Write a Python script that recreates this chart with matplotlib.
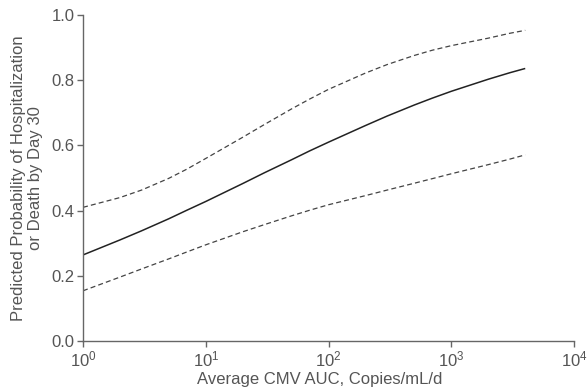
import matplotlib
matplotlib.use("Agg")
import matplotlib.pyplot as plt
from matplotlib.ticker import FixedLocator, NullLocator

plt.rcParams['font.family'] = ['Liberation Sans', 'DejaVu Sans']

auc = [1, 2, 3, 5, 7, 10, 20, 30, 50, 70, 100, 200, 300, 500, 700, 1000, 2000, 3000, 4000]
predicted = [0.264, 0.310, 0.338, 0.375, 0.401, 0.428, 0.483, 0.516, 0.556, 0.583, 0.610,
             0.661, 0.690, 0.724, 0.745, 0.766, 0.803, 0.823, 0.836]
upper_ci = [0.410, 0.440, 0.463, 0.499, 0.527, 0.560, 0.625, 0.664, 0.712, 0.742, 0.772,
            0.822, 0.848, 0.876, 0.892, 0.906, 0.929, 0.944, 0.953]
lower_ci = [0.154, 0.196, 0.221, 0.252, 0.273, 0.295, 0.335, 0.357, 0.384, 0.401, 0.418,
            0.446, 0.463, 0.484, 0.498, 0.513, 0.541, 0.558, 0.571]

xticks = [1, 10, 100, 1000, 10000]
xticklabels = [r'$\mathregular{10^{0}}$', r'$\mathregular{10^{1}}$', r'$\mathregular{10^{2}}$',
               r'$\mathregular{10^{3}}$', r'$\mathregular{10^{4}}$']
yticks = [0.0, 0.2, 0.4, 0.6, 0.8, 1.0]

fig = plt.figure(figsize=(5.87, 3.91), dpi=100)
ax = fig.add_axes([0.1414, 0.1279, 0.8366, 0.8337])

ax.plot(auc, predicted, color='#222222', lw=1.1, solid_capstyle='butt')
ax.plot(auc, upper_ci, color='#444444', lw=0.9, dashes=(4, 2.5))
ax.plot(auc, lower_ci, color='#444444', lw=0.9, dashes=(4, 2.5))

ax.set_xscale('log')
ax.set_xlim(1, 10000)
ax.set_ylim(0, 1.0)
ax.xaxis.set_major_locator(FixedLocator(xticks))
ax.xaxis.set_minor_locator(NullLocator())
ax.set_xticklabels(xticklabels)
ax.set_yticks(yticks)
ax.set_yticklabels([f'{v:.1f}' for v in yticks])

for s in ['top', 'right']:
    ax.spines[s].set_visible(False)
for s in ['left', 'bottom']:
    ax.spines[s].set_color('#666666')
    ax.spines[s].set_linewidth(1.0)

ax.tick_params(axis='both', which='major', direction='out', length=4, width=1.0,
               color='#666666', labelcolor='#555555', labelsize=12, pad=2)

ax.set_xlabel('Average CMV AUC, Copies/mL/d', fontsize=12, color='#555555')
ax.xaxis.set_label_coords(0.482, -0.095)
ax.set_ylabel('Predicted Probability of Hospitalization\nor Death by Day 30', fontsize=12,
              color='#555555', labelpad=6, linespacing=1.15)

fig.savefig('out.png', dpi=100)
